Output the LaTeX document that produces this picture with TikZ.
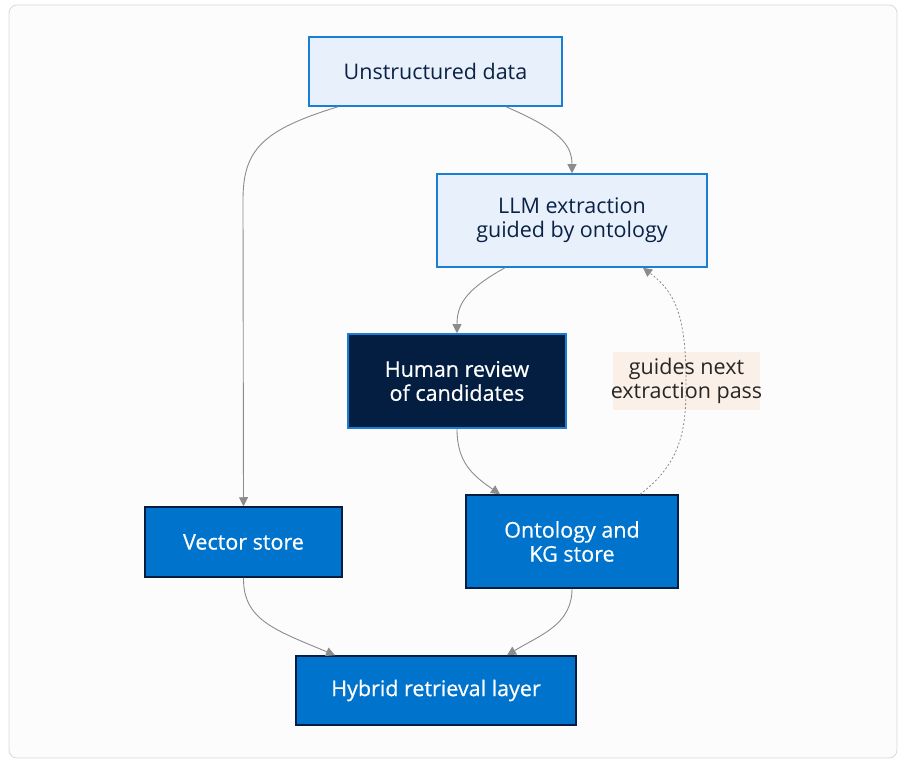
\documentclass[tikz,border=0pt]{standalone}
\usepackage{fontspec}
\setmainfont{Open Sans}
\newfontfamily\medfont[FakeBold=0.5]{Open Sans}
\usetikzlibrary{arrows.meta}
\definecolor{lightfill}{HTML}{E8F1FB}
\definecolor{brightblue}{HTML}{1A7FD4}
\definecolor{navy}{HTML}{041E42}
\definecolor{midblue}{HTML}{0074CC}
\definecolor{edgegrey}{HTML}{8C8C8C}
\definecolor{peach}{HTML}{FBF0E8}
\definecolor{textnavy}{HTML}{0A2245}
\begin{document}
\begin{tikzpicture}[x=1pt,y=-1pt,
  box/.style={rectangle, draw, line width=1.5pt, align=center, font=\fontsize{21.5}{24}\selectfont, inner sep=0pt},
  lightbox/.style={box, fill=lightfill, draw=brightblue, text=textnavy},
  darkbox/.style={box, fill=navy, draw=brightblue, text=white, font=\fontsize{21.5}{24}\medfont},
  bluebox/.style={box, fill=midblue, draw=navy, text=white, font=\fontsize{21.5}{24}\medfont},
  conn/.style={draw=edgegrey, line width=0.9pt, -{Triangle[length=9pt,width=9pt]}, color=edgegrey},
  note/.style={rectangle, fill=peach, text=black!85, align=center, inner sep=0pt}]
\useasboundingbox (0,0) rectangle (914,767);
\draw[draw=black!15, fill=white!99!black, rounded corners=8pt, line width=0.8pt] (9,5) rectangle (897,758);

\node[lightbox, minimum width=253pt, minimum height=69pt] (u) at (435.5,71.5) {Unstructured data};
\node[lightbox, minimum width=270pt, minimum height=93pt] (llm) at (572,220.5) {LLM extraction\\guided by ontology};
\node[darkbox, minimum width=218pt, minimum height=94pt] (hr) at (457,381) {Human review\\of candidates};
\node[bluebox, minimum width=197pt, minimum height=70pt] (vs) at (243.5,542) {Vector store};
\node[bluebox, minimum width=212pt, minimum height=93pt] (kg) at (572,541.5) {Ontology and\\KG store};
\node[bluebox, minimum width=280pt, minimum height=69pt] (hy) at (436,690.5) {Hybrid retrieval layer};

\coordinate (u1) at ([xshift=-97.5pt]u.south);
\coordinate (u2) at ([xshift=70.5pt]u.south);
\coordinate (l1) at ([xshift=-67pt]llm.south);
\coordinate (l2) at ([xshift=71pt]llm.south);
\coordinate (k1) at ([xshift=-72pt]kg.north);
\coordinate (k2) at ([xshift=68pt]kg.north);
\coordinate (h1) at ([xshift=-101pt]hy.north);
\coordinate (h2) at ([xshift=71pt]hy.north);

\draw[conn] (u1) .. controls (262,130) and (243,150) .. (243,200) -- (vs.north);
\draw[conn] (u2) .. controls (560,130) and (572,145) .. (llm.north);
\draw[conn] (l1) .. controls (465,290) and (hr.north |- 0,305) .. (hr.north);
\draw[conn] (hr.south) .. controls (457,462) and (472,475) .. (k1);
\draw[conn] (vs.south) .. controls (243,620) and (275,630) .. (h1);
\draw[conn] (kg.south) .. controls (572,625) and (540,635) .. (h2);

\node[note, minimum width=147pt, minimum height=58pt] (lab) at (686.5,381) {};
\draw[conn, dash pattern=on 2pt off 2pt, line width=0.8pt] (k2) .. controls (686,460) and (686,420) .. (686,380) .. controls (686,310) and (672,290) .. (l2);
\node[align=center, font=\fontsize{21.5}{24}\selectfont, text=black!85, inner sep=0pt] (labtext) at (lab.center) {guides next\\extraction pass};
\end{tikzpicture}
\end{document}
